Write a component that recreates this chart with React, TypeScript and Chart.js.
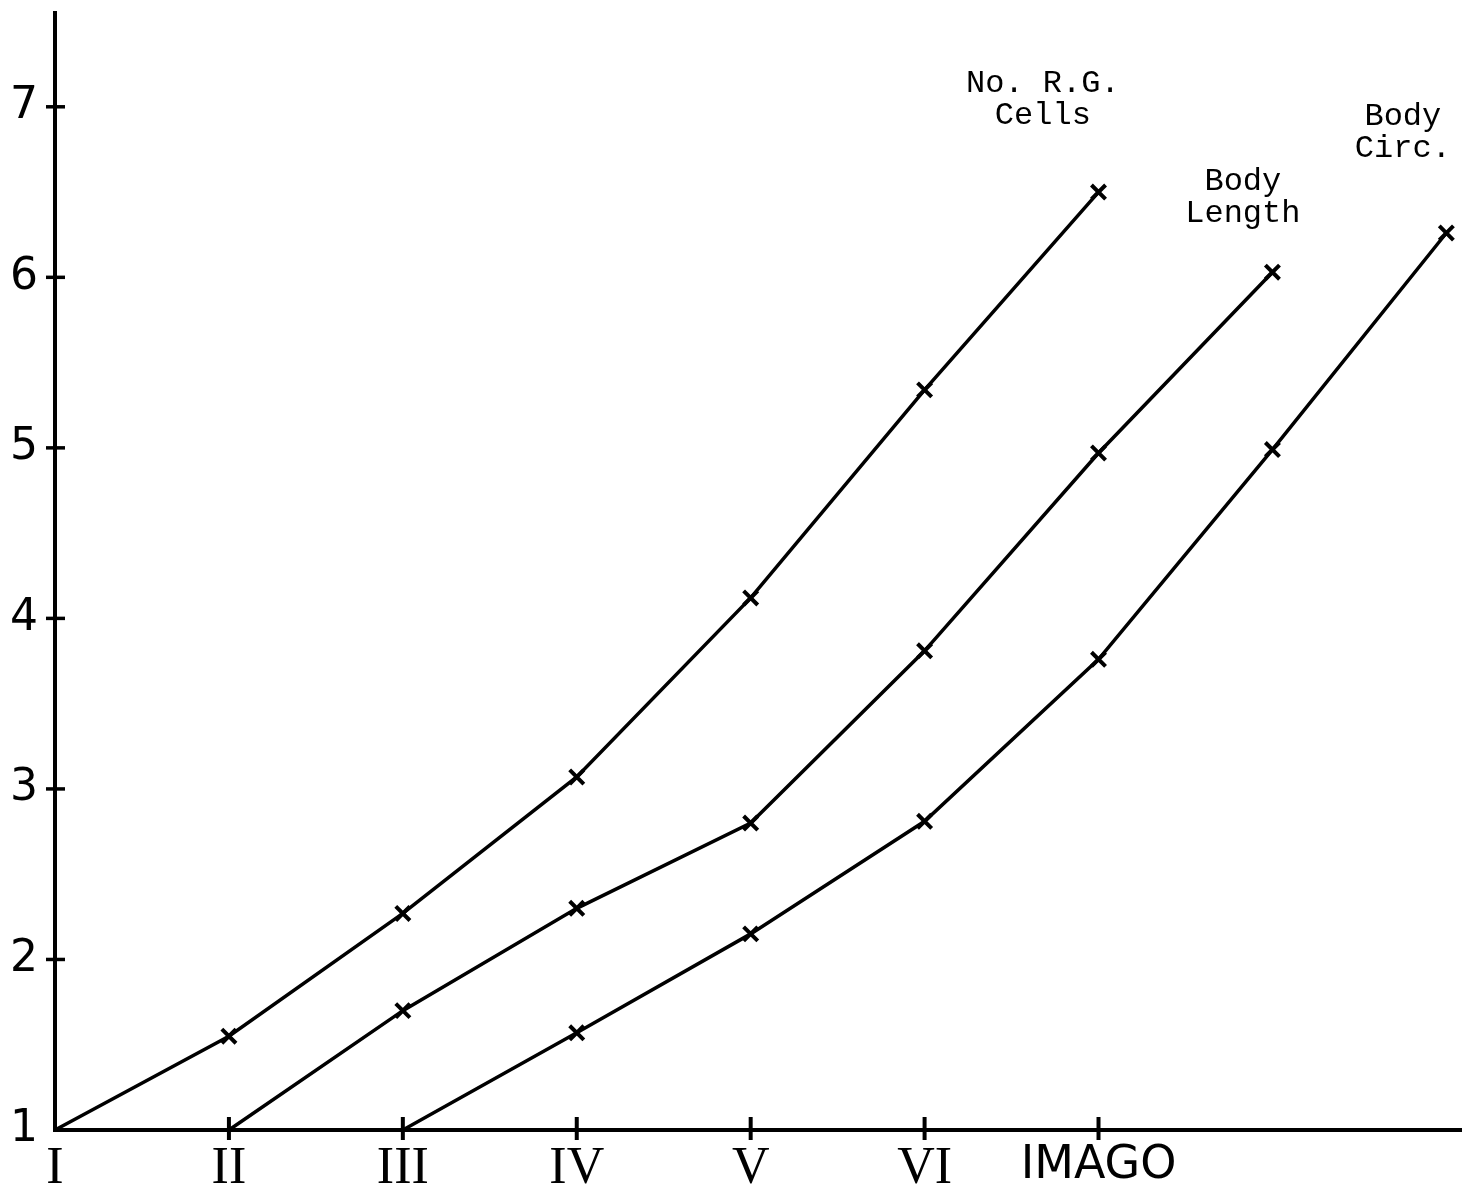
import React, { useEffect, useRef } from "react";
import { Chart, registerables } from "chart.js";

Chart.register(...registerables);

const stages = ["I", "II", "III", "IV", "V", "VI", "IMAGO"];
const stageIndex = [0, 1, 2, 3, 4, 5, 6, 7, 8];
const yTicks = [1, 2, 3, 4, 5, 6, 7];

const rgCells = [1, 1.55, 2.27, 3.07, 4.12, 5.34, 6.5, null, null];
const bodyLength = [null, 1, 1.7, 2.3, 2.8, 3.81, 4.97, 6.03, null];
const bodyCirc = [null, null, 1, 1.57, 2.15, 2.81, 3.76, 4.99, 6.26];

const seriesNames = ["No. R.G.\nCells", "Body\nLength", "Body\nCirc."];
const labelX = [5.68, 6.83, 7.75];
const labelY = [7.04, 6.47, 6.85];

function toPoints(arr: (number | null)[]) {
  const pts: { x: number; y: number }[] = [];
  arr.forEach((v, i) => {
    if (v !== null) pts.push({ x: stageIndex[i], y: v });
  });
  return pts;
}

const crossTicks = {
  id: "crossTicks",
  afterDatasetsDraw(chart: any) {
    const { ctx, chartArea, scales } = chart;
    ctx.save();
    ctx.strokeStyle = "#000";
    ctx.lineCap = "butt";
    ctx.lineWidth = 3.5;
    yTicks.forEach((v) => {
      if (v === 1) return;
      const py = scales.y.getPixelForValue(v);
      ctx.beginPath();
      ctx.moveTo(chartArea.left - 9, py);
      ctx.lineTo(chartArea.left + 10, py);
      ctx.stroke();
    });
    ctx.lineWidth = 4;
    stages.forEach((_, i) => {
      if (i === 0) return;
      const px = scales.x.getPixelForValue(i);
      ctx.beginPath();
      ctx.moveTo(px, chartArea.bottom - 13);
      ctx.lineTo(px, chartArea.bottom + 10);
      ctx.stroke();
    });
    ctx.restore();
  },
};

const seriesLabels = {
  id: "seriesLabels",
  afterDatasetsDraw(chart: any) {
    const { ctx, scales } = chart;
    ctx.save();
    ctx.fillStyle = "#000";
    ctx.font = '32px "Liberation Mono"';
    ctx.textAlign = "center";
    ctx.textBaseline = "middle";
    seriesNames.forEach((name, i) => {
      const lines = name.split("\n");
      const cx = scales.x.getPixelForValue(labelX[i]);
      const cy = scales.y.getPixelForValue(labelY[i]);
      const lh = 32;
      lines.forEach((ln, j) => {
        ctx.fillText(ln, cx, cy + (j - (lines.length - 1) / 2) * lh);
      });
    });
    ctx.restore();
  },
};

export default function App() {
  const ref = useRef<HTMLCanvasElement | null>(null);

  useEffect(() => {
    if (!ref.current) return;
    const common = {
      borderColor: "#000",
      backgroundColor: "#000",
      borderWidth: 3.5,
      pointStyle: "crossRot" as const,
      pointBorderWidth: 4,
      pointBorderColor: "#000",
      pointRadius: (c: any) => (c.raw && c.raw.y === 1 ? 0 : 10),
      tension: 0,
      fill: false,
      clip: false as const,
    };
    const chart = new Chart(ref.current, {
      type: "line",
      data: {
        datasets: [
          { ...common, label: seriesNames[0], data: toPoints(rgCells) },
          { ...common, label: seriesNames[1], data: toPoints(bodyLength) },
          { ...common, label: seriesNames[2], data: toPoints(bodyCirc) },
        ],
      },
      options: {
        responsive: false,
        animation: false,
        layout: { autoPadding: false, padding: { top: 13, right: 0, left: 0, bottom: 0 } },
        plugins: {
          legend: { display: false },
          tooltip: { enabled: false },
        },
        scales: {
          x: {
            type: "linear",
            min: 0,
            max: 8.09,
            afterFit: (s: any) => {
              s.height = 56;
              s.paddingLeft = 0;
              s.paddingRight = 0;
            },
            afterBuildTicks: (s: any) => {
              s.ticks = stages.map((_, i) => ({ value: i }));
            },
            grid: { display: true, drawOnChartArea: false, drawTicks: false },
            border: { display: true, color: "#000", width: 4 },
            ticks: {
              color: "#000",
              padding: 13,
              autoSkip: false,
              maxRotation: 0,
              callback: (v: any) => stages[v] ?? "",
              font: (c: any) =>
                c.tick && stages[c.tick.value] === "IMAGO"
                  ? { family: '"DejaVu Sans"', size: 46, lineHeight: 1 }
                  : { family: '"Liberation Serif"', size: 52, lineHeight: 1 },
            },
          },
          y: {
            type: "linear",
            min: 1,
            max: 7.55,
            afterFit: (s: any) => {
              s.width = 55;
              s.paddingTop = 0;
              s.paddingBottom = 0;
            },
            afterBuildTicks: (s: any) => {
              s.ticks = yTicks.map((v) => ({ value: v }));
            },
            grid: { display: true, drawOnChartArea: false, drawTicks: false },
            border: { display: true, color: "#000", width: 4 },
            ticks: {
              color: "#000",
              padding: 17,
              font: { family: '"DejaVu Sans"', size: 44, lineHeight: 1 },
            },
          },
        },
      },
      plugins: [crossTicks, seriesLabels],
    });
    return () => chart.destroy();
  }, []);

  return (
    <canvas
      ref={ref}
      width={1462}
      height={1186}
      style={{ position: "absolute", left: 0, top: 0, width: 1462, height: 1186, background: "#fff" }}
    />
  );
}
